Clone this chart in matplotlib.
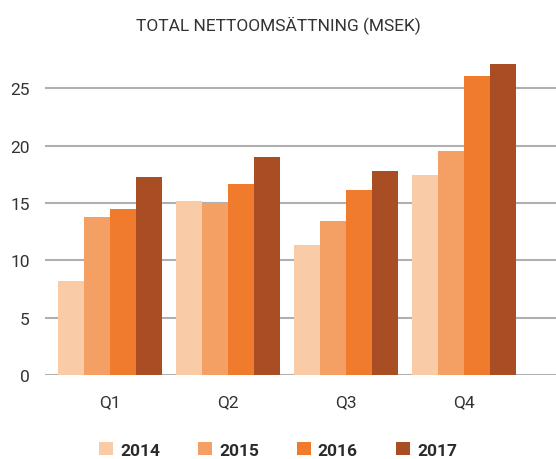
import matplotlib
matplotlib.use("Agg")
import matplotlib.pyplot as plt
import numpy as np

quarters = ["Q1", "Q2", "Q3", "Q4"]
years = ["2014", "2015", "2016", "2017"]
sales_2014 = [8.2, 15.2, 11.3, 17.4]
sales_2015 = [13.8, 15.0, 13.4, 19.5]
sales_2016 = [14.5, 16.7, 16.1, 26.1]
sales_2017 = [17.3, 19.0, 17.8, 27.1]
colors = ["#F9CBA6", "#F49F64", "#F17B2D", "#A94D24"]

series = [sales_2014, sales_2015, sales_2016, sales_2017]

plt.rcParams["font.family"] = ["Roboto", "DejaVu Sans"]

fig = plt.figure(figsize=(5.56, 4.6), dpi=100)
ax = fig.add_axes([0.081, 0.1826, 0.919, 0.698])

x = np.arange(len(quarters))
w = 0.22
for i, (vals, yr, c) in enumerate(zip(series, years, colors)):
    ax.bar(x + (i - 1.5) * w, vals, width=w, color=c, label=yr, zorder=3)

ax.set_xlim(-0.55, 3.78)
ax.set_ylim(0, 28)
ax.set_yticks([0, 5, 10, 15, 20, 25])
ax.yaxis.grid(True, color="#b0b0b0", lw=1.5, zorder=0)
ax.set_axisbelow(True)
for s in ax.spines.values():
    s.set_visible(False)
ax.set_xticks(x)
ax.set_xticklabels(quarters)
ax.tick_params(axis="both", length=0, labelsize=12.5, colors="#333333")
ax.tick_params(axis="x", pad=14)
ax.tick_params(axis="y", pad=11)

fig.text(0.5, 0.946, "TOTAL NETTOOMSÄTTNING (MSEK)", ha="center", va="center",
         fontsize=12.5, color="#333333")

fig.legend(loc="center", bbox_to_anchor=(0.5, 0.02), ncol=4, frameon=False,
           prop={"weight": "bold", "size": 12.5}, labelcolor="#2a2a2a",
           handlelength=0.8, handleheight=0.8, handletextpad=0.4,
           columnspacing=2.2)

fig.savefig("out.png", dpi=100)
